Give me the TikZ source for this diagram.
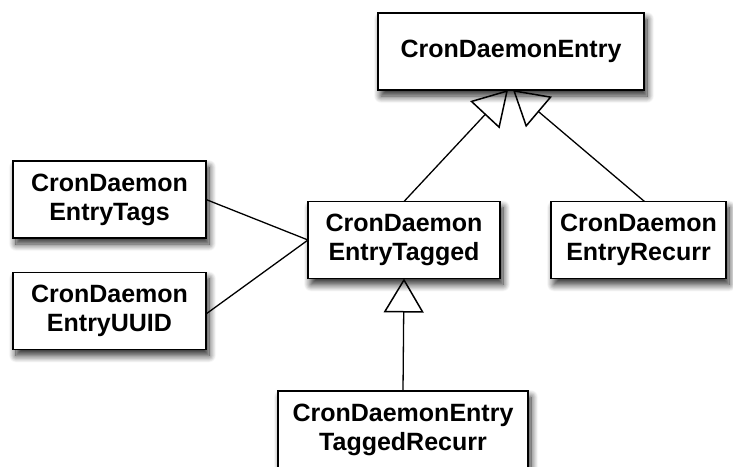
\documentclass[tikz,border=0pt]{standalone}
\usepackage{fontspec}
\setmainfont{Liberation Sans}
\usetikzlibrary{positioning}
\usetikzlibrary{arrows.meta,shadows.blur}
\tikzset{
    % open triangle tip for inheritance
    inherit/.style={
           -{Triangle[open,length=34pt,width=40pt,line width=1.5pt]},
           line width=1.3pt,},
    % plain association line
    assoc/.style={
           line width=1.3pt,}
}
\newcommand{\boxheight}{77pt}

\begin{document}
\begin{tikzpicture}[x=1pt, y=-1pt, outer sep = 0pt]
\tikzstyle{cls}=[draw, line width=1.6pt, rectangle, fill=white, inner sep=0pt, minimum height=\boxheight, align=center, font=\fontsize{25}{29}\selectfont\bfseries, blur shadow={shadow xshift=3pt, shadow yshift=-6pt, shadow blur radius=7pt, shadow blur steps=12, shadow opacity=85}]

\useasboundingbox (0,0) rectangle (733,466);

\node[cls, minimum width=266pt] (entry) at (511,51.5) {CronDaemonEntry};

\node[cls, minimum width=193pt] (tags) at (109.5,199.5) {CronDaemon\\EntryTags};
\node[cls, minimum width=193pt] (uuid) at (109.5,311) {CronDaemon\\EntryUUID};
\node[cls, minimum width=192pt] (tagged) at (404,240) {CronDaemon\\EntryTagged};
\node[cls, minimum width=175pt] (recurr) at (638.5,240) {CronDaemon\\EntryRecurr};
\node[cls, minimum width=250pt, anchor=north] (taggedrecurr) at (403,391) {CronDaemonEntry\\TaggedRecurr};

\path[inherit] (tagged.north)  edge ([xshift=-3pt]entry.south);
\path[inherit] ([xshift=6pt]recurr.north)  edge ([xshift=2pt]entry.south);
\path[inherit] (taggedrecurr.north)  edge (tagged.south);

\path[assoc] (tags.east)  edge (tagged.west);
\path[assoc] ([yshift=-3pt]uuid.east)  edge (tagged.west);

\end{tikzpicture}
\end{document}
